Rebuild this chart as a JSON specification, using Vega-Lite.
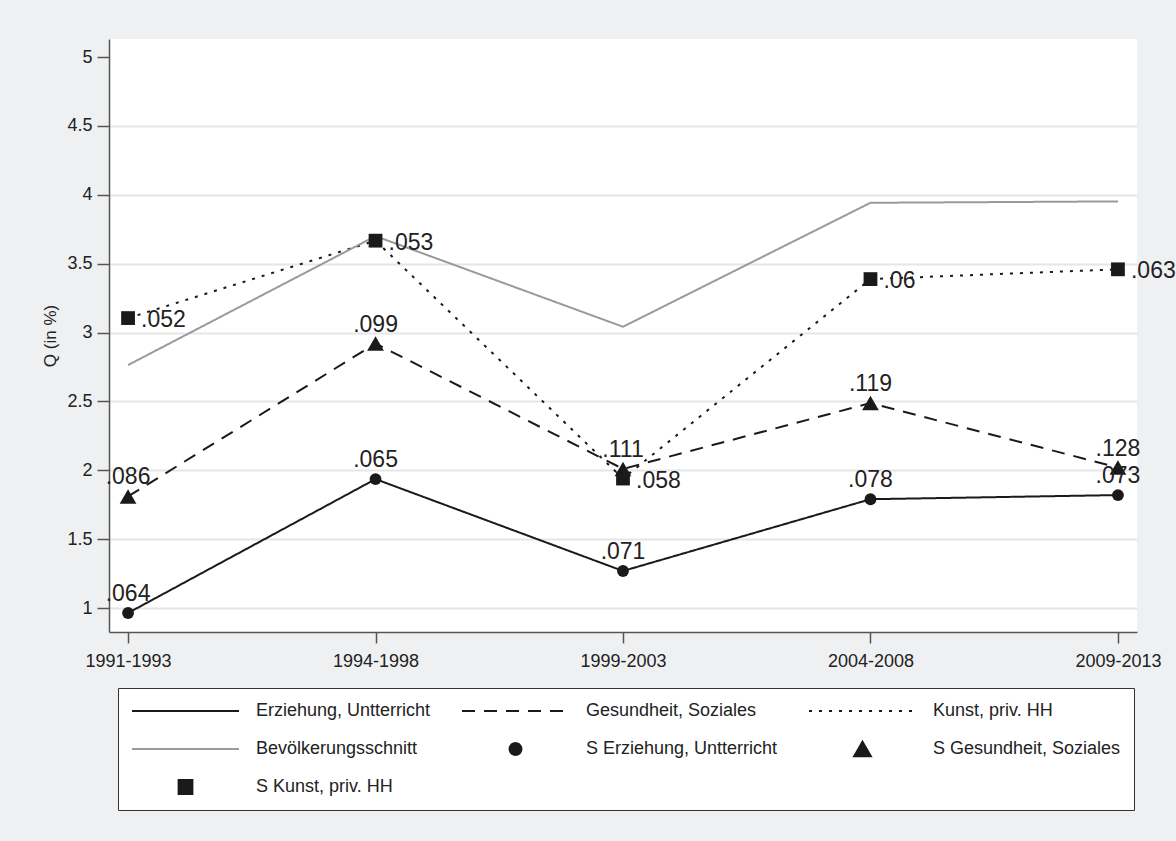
{
  "$schema": "https://vega.github.io/schema/vega-lite/v6.json",
  "width": 1028,
  "height": 593,
  "autosize": {"type": "none"},
  "padding": {"left": 109, "top": 39, "right": 39, "bottom": 209},
  "background": "#eff0f2",
  "config": {
    "view": {"fill": "white", "stroke": null},
    "font": "Liberation Sans",
    "axis": {
      "labelFontSize": 18,
      "labelColor": "#222222",
      "labelFont": "Liberation Sans",
      "tickColor": "#555555",
      "tickWidth": 1.5,
      "domainColor": "#555555",
      "domainWidth": 1.5,
      "titleFont": "Liberation Sans",
      "titleFontWeight": "normal",
      "titleColor": "#222222"
    }
  },
  "datasets": {
    "lines": [
      {"series": "Erziehung, Untterricht", "period": "1991-1993", "q": 0.964},
      {"series": "Erziehung, Untterricht", "period": "1994-1998", "q": 1.936},
      {"series": "Erziehung, Untterricht", "period": "1999-2003", "q": 1.269},
      {"series": "Erziehung, Untterricht", "period": "2004-2008", "q": 1.79},
      {"series": "Erziehung, Untterricht", "period": "2009-2013", "q": 1.82},
      {"series": "Gesundheit, Soziales", "period": "1991-1993", "q": 1.81},
      {"series": "Gesundheit, Soziales", "period": "1994-1998", "q": 2.92},
      {"series": "Gesundheit, Soziales", "period": "1999-2003", "q": 2.01},
      {"series": "Gesundheit, Soziales", "period": "2004-2008", "q": 2.488},
      {"series": "Gesundheit, Soziales", "period": "2009-2013", "q": 2.02},
      {"series": "Kunst, priv. HH", "period": "1991-1993", "q": 3.105},
      {"series": "Kunst, priv. HH", "period": "1994-1998", "q": 3.667},
      {"series": "Kunst, priv. HH", "period": "1999-2003", "q": 1.94},
      {"series": "Kunst, priv. HH", "period": "2004-2008", "q": 3.388},
      {"series": "Kunst, priv. HH", "period": "2009-2013", "q": 3.459},
      {"series": "Bevölkerungsschnitt", "period": "1991-1993", "q": 2.764},
      {"series": "Bevölkerungsschnitt", "period": "1994-1998", "q": 3.7},
      {"series": "Bevölkerungsschnitt", "period": "1999-2003", "q": 3.042},
      {"series": "Bevölkerungsschnitt", "period": "2004-2008", "q": 3.942},
      {"series": "Bevölkerungsschnitt", "period": "2009-2013", "q": 3.952}
    ],
    "markers": [
      {"series": "S Erziehung, Untterricht", "period": "1991-1993", "q": 0.964, "label": ".064"},
      {"series": "S Erziehung, Untterricht", "period": "1994-1998", "q": 1.936, "label": ".065"},
      {"series": "S Erziehung, Untterricht", "period": "1999-2003", "q": 1.269, "label": ".071"},
      {"series": "S Erziehung, Untterricht", "period": "2004-2008", "q": 1.79, "label": ".078"},
      {"series": "S Erziehung, Untterricht", "period": "2009-2013", "q": 1.82, "label": ".073"},
      {"series": "S Gesundheit, Soziales", "period": "1991-1993", "q": 1.81, "label": ".086"},
      {"series": "S Gesundheit, Soziales", "period": "1994-1998", "q": 2.92, "label": ".099"},
      {"series": "S Gesundheit, Soziales", "period": "1999-2003", "q": 2.01, "label": ".111"},
      {"series": "S Gesundheit, Soziales", "period": "2004-2008", "q": 2.488, "label": ".119"},
      {"series": "S Gesundheit, Soziales", "period": "2009-2013", "q": 2.02, "label": ".128"},
      {"series": "S Kunst, priv. HH", "period": "1991-1993", "q": 3.105, "label": ".052"},
      {"series": "S Kunst, priv. HH", "period": "1994-1998", "q": 3.667, "label": ".053"},
      {"series": "S Kunst, priv. HH", "period": "1999-2003", "q": 1.94, "label": ".058"},
      {"series": "S Kunst, priv. HH", "period": "2004-2008", "q": 3.388, "label": ".06"},
      {"series": "S Kunst, priv. HH", "period": "2009-2013", "q": 3.459, "label": ".063"}
    ]
  },
  "encoding": {
    "x": {
      "field": "period",
      "type": "ordinal",
      "scale": {"type": "point", "domain": ["1991-1993", "1994-1998", "1999-2003", "2004-2008", "2009-2013"], "padding": 0.077},
      "axis": {"title": null, "labelAngle": 0, "tickSize": 11, "labelPadding": 9, "grid": false}
    },
    "y": {
      "field": "q",
      "type": "quantitative",
      "scale": {"domain": [0.826, 5.131], "nice": false, "zero": false},
      "axis": {
        "title": "Q (in %)",
        "titleFontSize": 17,
        "titlePadding": 7,
        "values": [1, 1.5, 2, 2.5, 3, 3.5, 4, 4.5, 5],
        "format": "~g",
        "tickSize": 12,
        "labelPadding": 5,
        "grid": true,
        "gridWidth": 2,
        "gridColor": {"condition": {"test": "datum.value === 5", "value": "transparent"}, "value": "#e6e6e6"}
      }
    }
  },
  "layer": [
    {
      "data": {"name": "lines"},
      "mark": {"type": "line", "strokeWidth": 2, "strokeCap": "butt"},
      "encoding": {
        "color": {
          "field": "series", "type": "nominal",
          "scale": {"domain": ["Erziehung, Untterricht", "Gesundheit, Soziales", "Kunst, priv. HH", "Bevölkerungsschnitt", "S Erziehung, Untterricht", "S Gesundheit, Soziales", "S Kunst, priv. HH"],
                    "range": ["#1a1a1a", "#1a1a1a", "#1a1a1a", "#9a9a9a", "#1a1a1a", "#1a1a1a", "#1a1a1a"]},
          "legend": {"title": null, "orient": "none", "legendX": 9, "legendY": 649, "direction": "horizontal", "columns": 3, "columnPadding": 30, "rowPadding": 18, "clipHeight": 20, "padding": 13, "strokeColor": "#333333", "fillColor": "white", "labelFontSize": 18, "labelColor": "#222222", "labelFont": "Liberation Sans", "labelOffset": 16, "labelLimit": 400, "symbolStrokeWidth": 2,
            "encode": {"symbols": {"update": {"fill": {"scale": "color", "field": "value"}, "stroke": {"scale": "stroke", "field": "value"}, "strokeWidth": {"value": 2}, "opacity": {"value": 1}}}}}
        },
        "strokeDash": {
          "field": "series", "type": "nominal",
          "scale": {"domain": ["Erziehung, Untterricht", "Gesundheit, Soziales", "Kunst, priv. HH", "Bevölkerungsschnitt", "S Erziehung, Untterricht", "S Gesundheit, Soziales", "S Kunst, priv. HH"],
                    "range": [[1, 0], [13, 9], [3, 7], [1, 0], [1, 0], [1, 0], [1, 0]]},
          "legend": {"title": null, "orient": "none", "legendX": 9, "legendY": 649, "direction": "horizontal", "columns": 3, "columnPadding": 30, "rowPadding": 18, "clipHeight": 20, "padding": 13, "strokeColor": "#333333", "fillColor": "white", "labelFontSize": 18, "labelColor": "#222222", "labelFont": "Liberation Sans", "labelOffset": 16, "labelLimit": 400, "symbolStrokeWidth": 2,
            "encode": {"symbols": {"update": {"fill": {"scale": "color", "field": "value"}, "stroke": {"scale": "stroke", "field": "value"}, "strokeWidth": {"value": 2}, "opacity": {"value": 1}}}}}
        }
      }
    },
    {
      "data": {"name": "markers"},
      "mark": {"type": "point", "filled": true, "opacity": 1, "strokeWidth": 0},
      "encoding": {
        "color": {
          "field": "series", "type": "nominal",
          "legend": {"title": null, "orient": "none", "legendX": 9, "legendY": 649, "direction": "horizontal", "columns": 3, "columnPadding": 30, "rowPadding": 18, "clipHeight": 20, "padding": 13, "strokeColor": "#333333", "fillColor": "white", "labelFontSize": 18, "labelColor": "#222222", "labelFont": "Liberation Sans", "labelOffset": 16, "labelLimit": 400, "symbolStrokeWidth": 2,
            "encode": {"symbols": {"update": {"fill": {"scale": "color", "field": "value"}, "stroke": {"scale": "stroke", "field": "value"}, "strokeWidth": {"value": 2}, "opacity": {"value": 1}}}}}
        },
        "stroke": {
          "field": "series", "type": "nominal",
          "scale": {"domain": ["Erziehung, Untterricht", "Gesundheit, Soziales", "Kunst, priv. HH", "Bevölkerungsschnitt", "S Erziehung, Untterricht", "S Gesundheit, Soziales", "S Kunst, priv. HH"],
                    "range": ["#1a1a1a", "#1a1a1a", "#1a1a1a", "#9a9a9a", "transparent", "transparent", "transparent"]},
          "legend": {"title": null, "orient": "none", "legendX": 9, "legendY": 649, "direction": "horizontal", "columns": 3, "columnPadding": 30, "rowPadding": 18, "clipHeight": 20, "padding": 13, "strokeColor": "#333333", "fillColor": "white", "labelFontSize": 18, "labelColor": "#222222", "labelFont": "Liberation Sans", "labelOffset": 16, "labelLimit": 400, "symbolStrokeWidth": 2,
            "encode": {"symbols": {"update": {"fill": {"scale": "color", "field": "value"}, "stroke": {"scale": "stroke", "field": "value"}, "strokeWidth": {"value": 2}, "opacity": {"value": 1}}}}}
        },
        "shape": {
          "field": "series", "type": "nominal",
          "scale": {"domain": ["Erziehung, Untterricht", "Gesundheit, Soziales", "Kunst, priv. HH", "Bevölkerungsschnitt", "S Erziehung, Untterricht", "S Gesundheit, Soziales", "S Kunst, priv. HH"],
                    "range": ["stroke", "stroke", "stroke", "stroke", "circle", "triangle-up", "square"]},
          "legend": {"title": null, "orient": "none", "legendX": 9, "legendY": 649, "direction": "horizontal", "columns": 3, "columnPadding": 30, "rowPadding": 18, "clipHeight": 20, "padding": 13, "strokeColor": "#333333", "fillColor": "white", "labelFontSize": 18, "labelColor": "#222222", "labelFont": "Liberation Sans", "labelOffset": 16, "labelLimit": 400, "symbolStrokeWidth": 2,
            "encode": {"symbols": {"update": {"fill": {"scale": "color", "field": "value"}, "stroke": {"scale": "stroke", "field": "value"}, "strokeWidth": {"value": 2}, "opacity": {"value": 1}}}}}
        },
        "size": {
          "field": "series", "type": "nominal",
          "scale": {"type": "ordinal", "domain": ["Erziehung, Untterricht", "Gesundheit, Soziales", "Kunst, priv. HH", "Bevölkerungsschnitt", "S Erziehung, Untterricht", "S Gesundheit, Soziales", "S Kunst, priv. HH"],
                    "range": [11449, 11449, 11449, 11449, 140, 280, 190]},
          "legend": {"title": null, "orient": "none", "legendX": 9, "legendY": 649, "direction": "horizontal", "columns": 3, "columnPadding": 30, "rowPadding": 18, "clipHeight": 20, "padding": 13, "strokeColor": "#333333", "fillColor": "white", "labelFontSize": 18, "labelColor": "#222222", "labelFont": "Liberation Sans", "labelOffset": 16, "labelLimit": 400, "symbolStrokeWidth": 2,
            "encode": {"symbols": {"update": {"fill": {"scale": "color", "field": "value"}, "stroke": {"scale": "stroke", "field": "value"}, "strokeWidth": {"value": 2}, "opacity": {"value": 1}}}}}
        }
      }
    },
    {
      "data": {"name": "markers"},
      "transform": [{"filter": "datum.series !== 'S Kunst, priv. HH'"}],
      "mark": {"type": "text", "fontSize": 23, "align": "center", "baseline": "alphabetic", "dy": -12, "color": "#222222", "font": "Liberation Sans"},
      "encoding": {"text": {"field": "label", "type": "nominal"}}
    },
    {
      "data": {"name": "markers"},
      "transform": [{"filter": "datum.series === 'S Kunst, priv. HH'"}],
      "mark": {"type": "text", "fontSize": 23, "align": "left", "baseline": "alphabetic", "dx": 13, "dy": 9, "color": "#222222", "font": "Liberation Sans"},
      "encoding": {"text": {"field": "label", "type": "nominal"}}
    }
  ]
}
